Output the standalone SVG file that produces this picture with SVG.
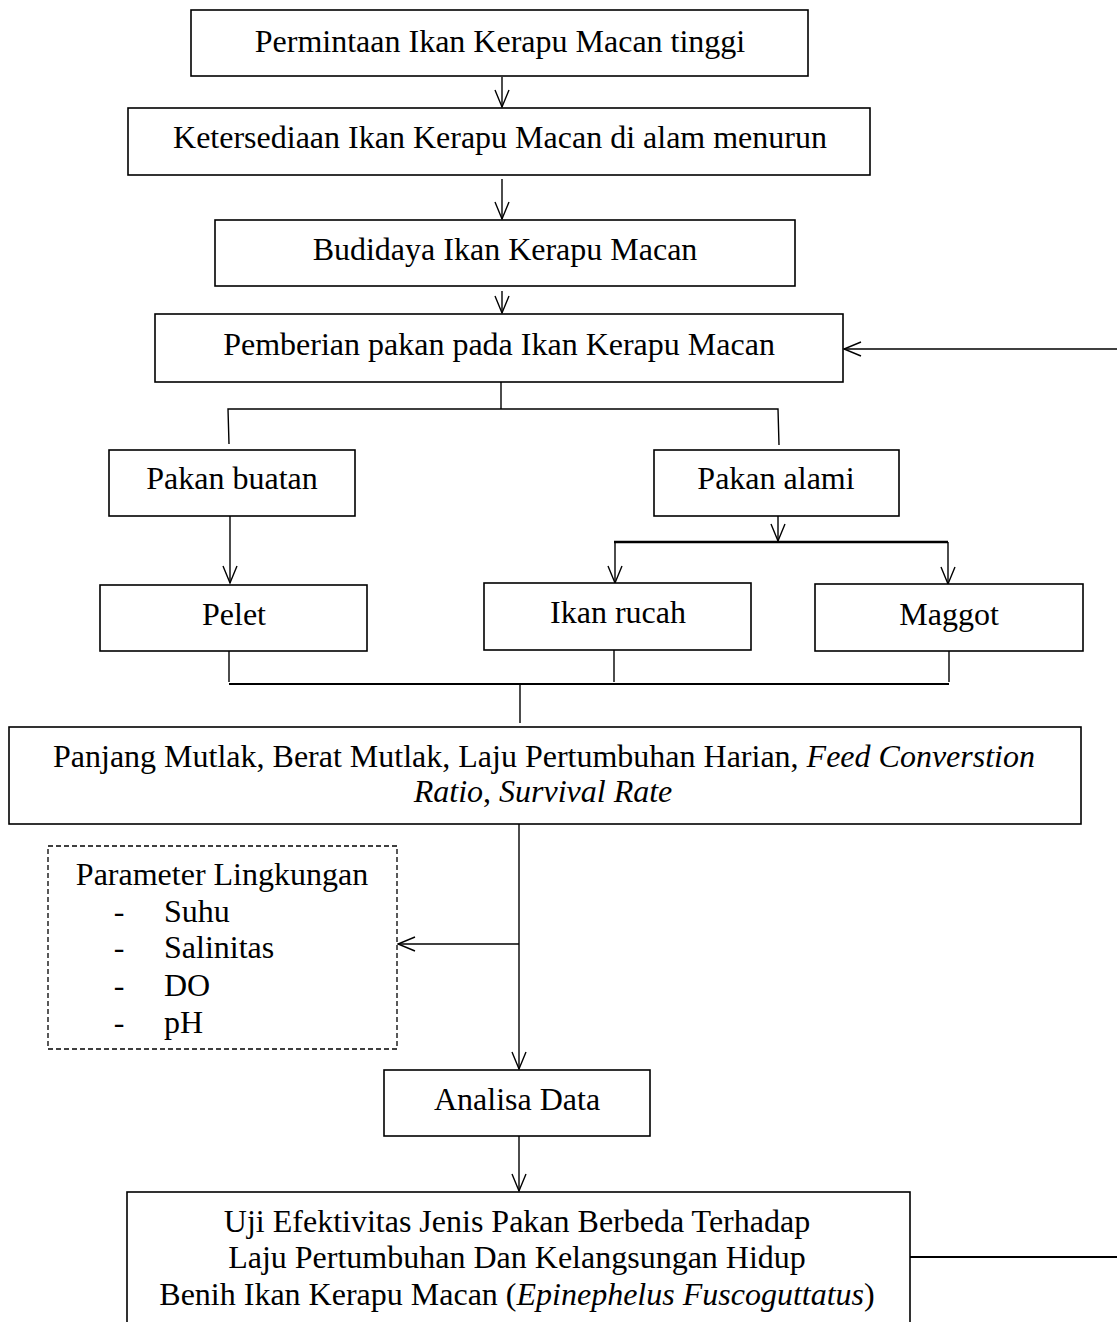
<svg xmlns="http://www.w3.org/2000/svg" width="1117" height="1322" viewBox="0 0 1117 1322">
<style>
.box{fill:#fff;stroke:#000;stroke-width:1.6}
.dash{fill:#fff;stroke:#000;stroke-width:1.3;stroke-dasharray:5,3}
.t{font-family:"Liberation Serif","Times New Roman",serif;font-size:32px;fill:#000;text-anchor:middle}
.l{text-anchor:start}
.c{fill:none;stroke:#000;stroke-width:1.4}
.a{marker-end:url(#arr)}
</style>
<defs>
<marker id="arr" markerUnits="userSpaceOnUse" markerWidth="20" markerHeight="20" viewBox="-18 -8 20 16" refX="0" refY="0" orient="auto">
<path d="M-17,-7 L0,0 L-17,7" fill="none" stroke="#000" stroke-width="1.4"/>
</marker>
</defs>
<g id="connectors">
<line class="c a" x1="502" y1="77" x2="502" y2="107"/>
<line class="c a" x1="502" y1="179" x2="502" y2="219"/>
<line class="c a" x1="502" y1="291" x2="502" y2="313"/>
<line class="c a" x1="1117" y1="349" x2="844" y2="349"/>
<polyline class="c" points="501,382 501,409"/>
<polyline class="c" points="229,444 228,409 778,409 779,445"/>
<line class="c a" x1="230" y1="516" x2="230" y2="583"/>
<line class="c a" x1="778" y1="516" x2="778" y2="541"/>
<line class="c" x1="614" y1="542" x2="948" y2="542" style="stroke-width:2.4"/>
<line class="c a" x1="615" y1="542" x2="615" y2="583"/>
<line class="c a" x1="948" y1="542" x2="948" y2="584"/>
<line class="c" x1="229" y1="651" x2="229" y2="682"/>
<line class="c" x1="614" y1="650" x2="614" y2="682"/>
<line class="c" x1="949" y1="651" x2="949" y2="682"/>
<line class="c" x1="229" y1="684" x2="949" y2="684" style="stroke-width:2"/>
<line class="c" x1="520" y1="684" x2="520" y2="723"/>
<line class="c a" x1="519" y1="824" x2="519" y2="1069"/>
<line class="c a" x1="519" y1="944" x2="398" y2="944"/>
<line class="c a" x1="519" y1="1136" x2="519" y2="1191"/>
<line class="c" x1="910" y1="1257" x2="1117" y2="1257" style="stroke-width:2"/>
</g>
<g id="n1"><rect class="box" x="191" y="10" width="617" height="66"/><text class="t" x="500" y="52">Permintaan Ikan Kerapu Macan tinggi</text></g>
<g id="n2"><rect class="box" x="128" y="108" width="742" height="67"/><text class="t" x="500" y="148">Ketersediaan Ikan Kerapu Macan di alam menurun</text></g>
<g id="n3"><rect class="box" x="215" y="220" width="580" height="66"/><text class="t" x="505" y="260">Budidaya Ikan Kerapu Macan</text></g>
<g id="n4"><rect class="box" x="155" y="314" width="688" height="68"/><text class="t" x="499" y="355">Pemberian pakan pada Ikan Kerapu Macan</text></g>
<g id="n5"><rect class="box" x="109" y="450" width="246" height="66"/><text class="t" x="232" y="489">Pakan buatan</text></g>
<g id="n6"><rect class="box" x="654" y="450" width="245" height="66"/><text class="t" x="776" y="489">Pakan alami</text></g>
<g id="n7"><rect class="box" x="100" y="585" width="267" height="66"/><text class="t" x="234" y="625">Pelet</text></g>
<g id="n8"><rect class="box" x="484" y="583" width="267" height="67"/><text class="t" x="618" y="623">Ikan rucah</text></g>
<g id="n9"><rect class="box" x="815" y="584" width="268" height="67"/><text class="t" x="949" y="625">Maggot</text></g>
<g id="n10"><rect class="box" x="9" y="727" width="1072" height="97"/>
<text class="t" x="544" y="767">Panjang Mutlak, Berat Mutlak, Laju Pertumbuhan Harian, <tspan font-style="italic">Feed Converstion</tspan></text>
<text class="t" x="543" y="802"><tspan font-style="italic">Ratio</tspan>, <tspan font-style="italic">Survival Rate</tspan></text></g>
<g id="n11"><rect class="dash" x="48" y="846" width="349" height="203"/>
<text class="t" x="222" y="885">Parameter Lingkungan</text>
<text class="t" x="119" y="922">-</text><text class="t l" x="164" y="922">Suhu</text>
<text class="t" x="119" y="958">-</text><text class="t l" x="164" y="958">Salinitas</text>
<text class="t" x="119" y="996">-</text><text class="t l" x="164" y="996">DO</text>
<text class="t" x="119" y="1033">-</text><text class="t l" x="164" y="1033">pH</text></g>
<g id="n12"><rect class="box" x="384" y="1070" width="266" height="66"/><text class="t" x="517" y="1110">Analisa Data</text></g>
<g id="n13"><rect class="box" x="127" y="1192" width="783" height="140"/>
<text class="t" x="517" y="1232">Uji Efektivitas Jenis Pakan Berbeda Terhadap</text>
<text class="t" x="517" y="1268">Laju Pertumbuhan Dan Kelangsungan Hidup</text>
<text class="t" x="517" y="1305">Benih Ikan Kerapu Macan (<tspan font-style="italic">Epinephelus Fuscoguttatus</tspan>)</text></g>
</svg>
